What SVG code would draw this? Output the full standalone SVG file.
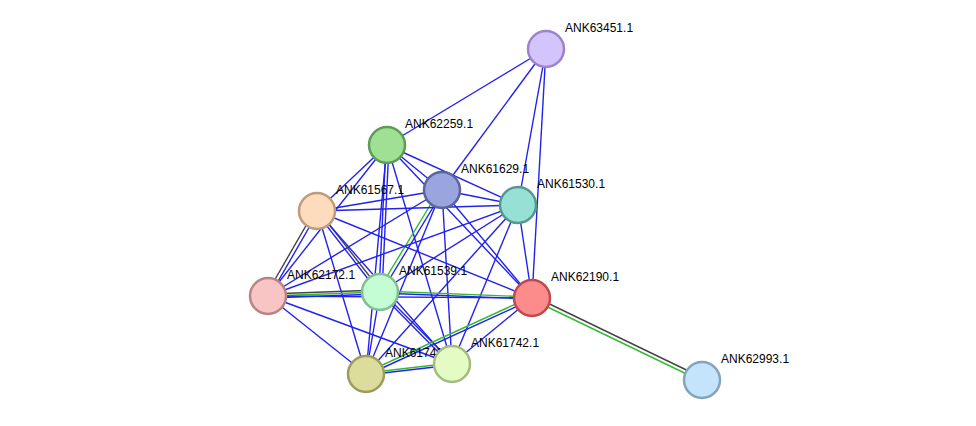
<svg xmlns="http://www.w3.org/2000/svg" width="976" height="426" viewBox="0 0 976 426">
<style>
.e{stroke:#2222ee;stroke-width:1.4;fill:none}
.g{stroke:#33bb33;stroke-width:1.4}
.k{stroke:#444;stroke-width:1.4}
circle{stroke-width:2.5}
text{font-family:"Liberation Sans",Arial,sans-serif;font-size:12px;fill:#000}
</style>
<rect width="976" height="426" fill="#fff"/>
<g id="edges">
<line class="e" x1="546" y1="49" x2="387" y2="145"/>
<line class="e" x1="546" y1="49" x2="442" y2="190"/>
<line class="e" x1="546" y1="49" x2="518" y2="205"/>
<line class="e" x1="546" y1="49" x2="532" y2="298"/>
<line class="e" x1="387" y1="145" x2="442" y2="190"/>
<line class="e" x1="387" y1="145" x2="518" y2="205"/>
<line class="e" x1="387" y1="145" x2="317" y2="211"/>
<line class="e" x1="387" y1="145" x2="268" y2="296"/>
<line class="e" x1="386" y1="145" x2="379" y2="292"/>
<line class="e" x1="389" y1="145" x2="382" y2="292"/>
<line class="e" x1="387" y1="145" x2="366" y2="374"/>
<line class="e" x1="387" y1="145" x2="452" y2="364"/>
<line class="e" x1="387" y1="145" x2="532" y2="298"/>
<line class="e" x1="442" y1="190" x2="518" y2="205"/>
<line class="e" x1="442" y1="190" x2="317" y2="211"/>
<line class="e" x1="442" y1="190" x2="268" y2="296"/>
<line class="g" x1="440" y1="189" x2="378" y2="291"/>
<line class="e" x1="443" y1="191" x2="381" y2="293"/>
<line class="e" x1="442" y1="190" x2="532" y2="298"/>
<line class="e" x1="442" y1="190" x2="366" y2="374"/>
<line class="e" x1="442" y1="190" x2="452" y2="364"/>
<line class="e" x1="518" y1="205" x2="317" y2="211"/>
<line class="e" x1="518" y1="205" x2="268" y2="296"/>
<line class="e" x1="518" y1="205" x2="380" y2="292"/>
<line class="e" x1="518" y1="205" x2="532" y2="298"/>
<line class="e" x1="518" y1="205" x2="366" y2="374"/>
<line class="e" x1="518" y1="205" x2="452" y2="364"/>
<line class="k" x1="315" y1="210" x2="266" y2="295"/>
<line class="e" x1="318" y1="212" x2="269" y2="297"/>
<line class="k" x1="318" y1="210" x2="381" y2="291"/>
<line class="e" x1="316" y1="212" x2="379" y2="293"/>
<line class="e" x1="317" y1="211" x2="532" y2="298"/>
<line class="e" x1="317" y1="211" x2="366" y2="374"/>
<line class="e" x1="317" y1="211" x2="452" y2="364"/>
<line class="k" x1="268" y1="294" x2="380" y2="290"/>
<line class="g" x1="268" y1="296" x2="380" y2="292"/>
<line class="e" x1="268" y1="298" x2="380" y2="294"/>
<line class="e" x1="268" y1="296" x2="532" y2="298"/>
<line class="e" x1="268" y1="296" x2="366" y2="374"/>
<line class="e" x1="268" y1="296" x2="452" y2="364"/>
<line class="g" x1="380" y1="291" x2="532" y2="297"/>
<line class="e" x1="380" y1="293" x2="532" y2="299"/>
<line class="e" x1="380" y1="292" x2="366" y2="374"/>
<line class="e" x1="379" y1="292" x2="450" y2="364"/>
<line class="e" x1="381" y1="291" x2="453" y2="363"/>
<line class="g" x1="531" y1="297" x2="365" y2="373"/>
<line class="e" x1="533" y1="299" x2="367" y2="375"/>
<line class="e" x1="532" y1="298" x2="452" y2="364"/>
<line class="k" x1="533" y1="296" x2="703" y2="378"/>
<line class="g" x1="531" y1="299" x2="701" y2="381"/>
<line class="g" x1="366" y1="373" x2="452" y2="363"/>
<line class="e" x1="366" y1="375" x2="452" y2="365"/>
</g>
<g id="ANK63451"><circle cx="546" cy="49" r="18" fill="#d4c4fc" stroke="#9c84cc"/><text x="565" y="32">ANK63451.1</text></g>
<g id="ANK62259"><circle cx="387" cy="145" r="18" fill="#a0e094" stroke="#5c9c54"/><text x="405" y="128">ANK62259.1</text></g>
<g id="ANK61629"><circle cx="442" cy="190" r="18" fill="#9aa4de" stroke="#5c649c"/><text x="461" y="173">ANK61629.1</text></g>
<g id="ANK61530"><circle cx="518" cy="205" r="18" fill="#96e0d6" stroke="#54988e"/><text x="537" y="188">ANK61530.1</text></g>
<g id="ANK61567"><circle cx="317" cy="211" r="18" fill="#fcdcbc" stroke="#bc9c7c"/><text x="336" y="194">ANK61567.1</text></g>
<g id="ANK62172"><circle cx="268" cy="296" r="18" fill="#f8c4c4" stroke="#b88484"/><text x="287" y="279">ANK62172.1</text></g>
<g id="ANK61539"><circle cx="380" cy="292" r="18" fill="#c4fcd4" stroke="#84bc94"/><text x="399" y="275">ANK61539.1</text></g>
<g id="ANK62190"><circle cx="532" cy="298" r="18" fill="#fc8c8c" stroke="#bc4c4c"/><text x="551" y="281">ANK62190.1</text></g>
<g id="ANK61741"><circle cx="366" cy="374" r="18" fill="#dcdc9c" stroke="#9c9c5c"/><text x="385" y="357">ANK61741.1</text></g>
<g id="ANK61742"><circle cx="452" cy="364" r="18" fill="#e4fcc4" stroke="#a4bc84"/><text x="471" y="347">ANK61742.1</text></g>
<g id="ANK62993"><circle cx="702" cy="380" r="18" fill="#c4e4fc" stroke="#84a4bc"/><text x="721" y="363">ANK62993.1</text></g>
</svg>
